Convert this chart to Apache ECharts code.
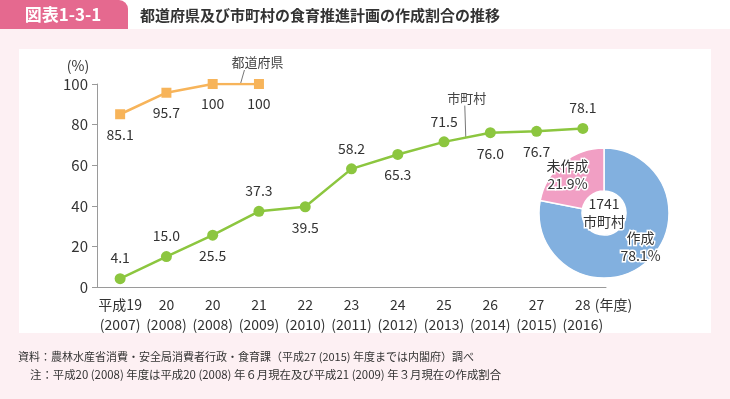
<!DOCTYPE html>
<html><head><meta charset="utf-8">
<script src="https://cdn.jsdelivr.net/npm/echarts@6/dist/echarts.min.js"></script>
<style>html,body{margin:0;padding:0;background:#fff}#c{width:730px;height:399px}</style>
</head><body><div id="c"></div>
<script>
const categories = ['平成19\n(2007)','20\n(2008)','20\n(2008)','21\n(2009)','22\n(2010)','23\n(2011)','24\n(2012)','25\n(2013)','26\n(2014)','27\n(2015)','28\n(2016)'];
const prefValues = [85.1, 95.7, 100, 100];
const muniValues = [4.1, 15.0, 25.5, 37.3, 39.5, 58.2, 65.3, 71.5, 76.0, 76.7, 78.1];
const muniLabelPos = ['top','top','bottom','top','bottom','top','bottom','top','bottom','bottom','top'];
const yTicks = [0, 20, 40, 60, 80, 100];
const pieNames = ['作成', '未作成'];
const pieValues = [78.1, 21.9];
const pieTotal = '1741\n市町村';

const FONT = '"Noto Sans CJK JP","Noto Sans",sans-serif';
const TXT = '#333';
const chart = echarts.init(document.getElementById('c'));

const muniData = muniValues.map((v, i) => ({
  value: v,
  label: { position: muniLabelPos[i], distance: 8 }
}));

chart.setOption({
  animation: false,
  textStyle: { fontFamily: FONT },
  grid: { left: 97, right: 124, top: 84, bottom: 112, containLabel: false },
  xAxis: {
    type: 'category',
    data: categories,
    boundaryGap: true,
    axisLine: { lineStyle: { color: '#9a9a9a', width: 1 } },
    axisTick: { show: false },
    axisLabel: { color: TXT, fontSize: 14, lineHeight: 20, margin: 8, fontFamily: FONT, interval: 0 }
  },
  yAxis: {
    type: 'value',
    min: yTicks[0], max: yTicks[yTicks.length - 1], interval: 20,
    axisLine: { show: true, lineStyle: { color: '#9a9a9a', width: 1 } },
    axisTick: { show: true, inside: false, length: 5, lineStyle: { color: '#9a9a9a' } },
    splitLine: { show: false },
    axisLabel: { color: TXT, fontSize: 15, margin: 9, fontFamily: FONT }
  },
  series: [
    {
      type: 'line', name: '都道府県', data: prefValues,
      symbol: 'rect', symbolSize: 10,
      lineStyle: { color: '#f7b45a', width: 2.5 },
      itemStyle: { color: '#f7b45a' },
      label: { show: true, position: 'bottom', distance: 8, color: TXT, fontSize: 14, fontFamily: FONT,
        formatter: p => p.value.toString() }
    },
    {
      type: 'line', name: '市町村', data: muniData,
      symbol: 'circle', symbolSize: 11,
      lineStyle: { color: '#8cc63f', width: 2.5 },
      itemStyle: { color: '#8cc63f' },
      label: { show: true, color: TXT, fontSize: 14, fontFamily: FONT,
        formatter: p => p.value.toFixed(1) }
    },
    {
      type: 'pie', center: [604, 213], radius: [22, 65], startAngle: 90, clockwise: true,
      avoidLabelOverlap: false,
      itemStyle: { borderColor: '#fff', borderWidth: 1.5 },
      label: { show: true, position: 'inside', color: TXT, fontSize: 14, lineHeight: 18, fontFamily: FONT,
        textBorderColor: '#fff', textBorderWidth: 3,
        formatter: p => p.name + '\n' + p.value.toFixed(1) + '%' },
      labelLine: { show: false },
      emphasis: { disabled: true },
      data: [
        { name: pieNames[0], value: pieValues[0], itemStyle: { color: '#82b0df' }, label: { offset: [7, -2] } },
        { name: pieNames[1], value: pieValues[1], itemStyle: { color: '#f19fc4' }, label: { offset: [-7, -2] } }
      ]
    }
  ]
});

function draw() {
  const p = (i, y) => chart.convertToPixel({ gridIndex: 0 }, [i, y]);
  const between = (i, t, y) => {
    const a = p(i, y), b = p(i + 1, y);
    return [a[0] + (b[0] - a[0]) * t, a[1]];
  };
  const prefAnchor = between(2, 0.6, 100);
  const muniAnchor = between(7, 0.47, 73.6);
  const last = p(10, 0);
  chart.setOption({
    graphic: [
      { type: 'rect', z: -10, silent: true, shape: { x: 0, y: 29, width: 730, height: 370 }, style: { fill: '#fdf0f3' } },
      { type: 'rect', z: -9, silent: true, shape: { x: 19, y: 49, width: 692, height: 284 }, style: { fill: '#ffffff' } },
      { type: 'rect', z: -8, silent: true, shape: { x: 0, y: 0, width: 128, height: 29, r: [0, 9, 0, 0] }, style: { fill: '#e5698f' } },
      { type: 'text', silent: true, x: 63, y: 15, style: { text: '図表1-3-1', fill: '#fff', font: 'bold 17px ' + FONT, align: 'center', verticalAlign: 'middle' } },
      { type: 'text', silent: true, x: 140, y: 15, style: { text: '都道府県及び市町村の食育推進計画の作成割合の推移', fill: '#333', font: 'bold 15px ' + FONT, align: 'left', verticalAlign: 'middle' } },
      { type: 'text', silent: true, x: 78, y: 66, style: { text: '(%)', fill: TXT, font: '14px ' + FONT, align: 'center', verticalAlign: 'middle' } },
      { type: 'line', silent: true, shape: { x1: prefAnchor[0], y1: prefAnchor[1], x2: prefAnchor[0] + 4, y2: prefAnchor[1] - 14 }, style: { stroke: '#777', lineWidth: 1 } },
      { type: 'text', silent: true, x: prefAnchor[0] + 17, y: prefAnchor[1] - 22, style: { text: '都道府県', fill: '#444', font: '13px ' + FONT, align: 'center', verticalAlign: 'middle' } },
      { type: 'line', silent: true, shape: { x1: muniAnchor[0], y1: muniAnchor[1], x2: muniAnchor[0] - 1, y2: muniAnchor[1] - 32 }, style: { stroke: '#777', lineWidth: 1 } },
      { type: 'text', silent: true, x: muniAnchor[0] + 1, y: muniAnchor[1] - 40, style: { text: '市町村', fill: '#444', font: '13px ' + FONT, align: 'center', verticalAlign: 'middle' } },
      { type: 'text', silent: true, x: last[0] + 12, y: last[1] + 18, style: { text: '(年度)', fill: TXT, font: '14px ' + FONT, align: 'left', verticalAlign: 'middle' } },
      { type: 'text', silent: true, x: 604, y: 213, z: 100, style: { text: pieTotal, fill: TXT, font: '14px ' + FONT, align: 'center', verticalAlign: 'middle', lineHeight: 18, stroke: '#fff', lineWidth: 3 } },
      { type: 'text', silent: true, x: 18, y: 357, style: { text: '資料：農林水産省消費・安全局消費者行政・食育課（平成27 (2015) 年度までは内閣府）調べ', fill: TXT, font: '11px ' + FONT, align: 'left', verticalAlign: 'middle' } },
      { type: 'text', silent: true, x: 30, y: 375, style: { text: '注：平成20 (2008) 年度は平成20 (2008) 年６月現在及び平成21 (2009) 年３月現在の作成割合', fill: TXT, font: '11.4px ' + FONT, align: 'left', verticalAlign: 'middle' } }
    ]
  });
}
draw();
</script></body></html>
